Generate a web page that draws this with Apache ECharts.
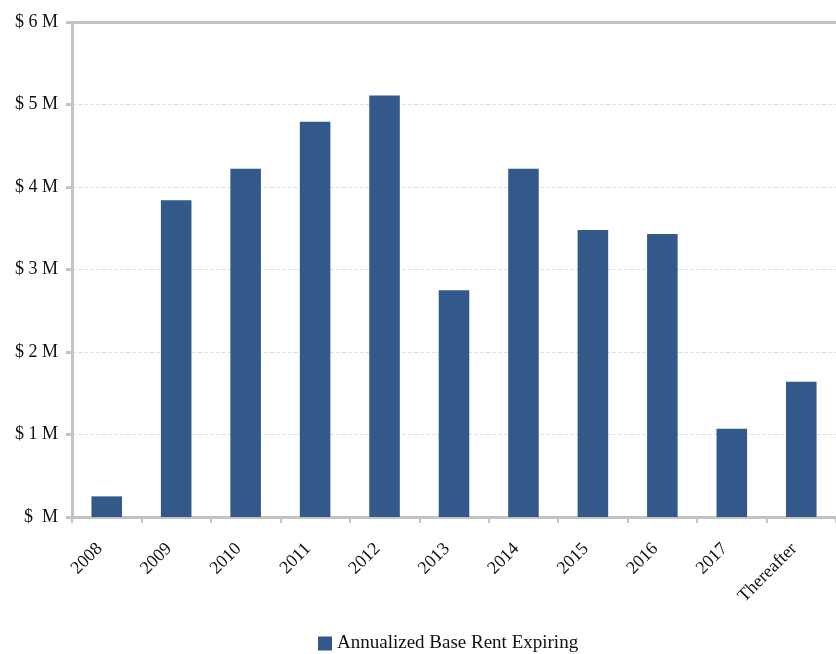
<!DOCTYPE html>
<html>
<head>
<meta charset="utf-8">
<script src="https://cdn.jsdelivr.net/npm/echarts@6/dist/echarts.min.js"></script>
<style>
  html, body { margin: 0; padding: 0; background: #fff; }
  #chart { width: 836px; height: 654px; }
</style>
</head>
<body>
<div id="chart"></div>
<script>
// Lease expiration schedule: annualized base rent expiring per year ($ millions)
const years = ['2008', '2009', '2010', '2011', '2012', '2013', '2014', '2015', '2016', '2017', 'Thereafter'];
const rentExpiring = [0.25, 3.84, 4.22, 4.79, 5.11, 2.75, 4.22, 3.48, 3.43, 1.07, 1.64];
const seriesName = 'Annualized Base Rent Expiring';
const yTicks = [0, 1, 2, 3, 4, 5, 6];

const barColor = '#33598b';
const axisGray = '#c3c3c3';
const font = '"Liberation Serif", "Times New Roman", serif';

const chart = echarts.init(document.getElementById('chart'));
chart.setOption({
  animation: false,
  textStyle: { fontFamily: font },
  legend: {
    top: 629,
    left: 313,
    itemWidth: 14,
    itemHeight: 14,
    itemGap: 6,
    icon: 'rect',
    textStyle: { fontFamily: font, fontSize: 19, color: '#111' },
    data: [seriesName]
  },
  grid: { left: 72, right: -9, top: 22, bottom: 137 },
  xAxis: [{
    type: 'category',
    data: years,
    boundaryGap: true,
    axisLine: { lineStyle: { color: axisGray, width: 3 } },
    axisTick: { show: true, length: 6, lineStyle: { color: axisGray, width: 2 } },
    axisLabel: {
      rotate: 45,
      interval: 0,
      margin: 22,
      padding: [0, 10, 0, 0],
      fontFamily: font,
      fontSize: 18,
      color: '#111'
    }
  }, {
    type: 'category',
    data: years,
    position: 'top',
    axisLine: { lineStyle: { color: axisGray, width: 3 } },
    axisTick: { show: false },
    axisLabel: { show: false }
  }],
  yAxis: {
    type: 'value',
    min: yTicks[0],
    max: yTicks[yTicks.length - 1],
    interval: 1,
    axisLine: { show: true, lineStyle: { color: axisGray, width: 3 } },
    axisTick: { show: true, length: 6, lineStyle: { color: axisGray, width: 3 } },
    splitLine: { show: true, lineStyle: { color: '#e0e0e0', type: [4, 2], width: 1 } },
    axisLabel: {
      margin: 14,
      fontFamily: font,
      fontSize: 18,
      color: '#111',
      formatter: v => (v === 0 ? '$  M' : '$ ' + v + ' M')
    }
  },
  series: [{
    name: seriesName,
    type: 'bar',
    data: rentExpiring,
    barWidth: '44%',
    itemStyle: { color: barColor }
  }]
});
</script>
</body>
</html>
